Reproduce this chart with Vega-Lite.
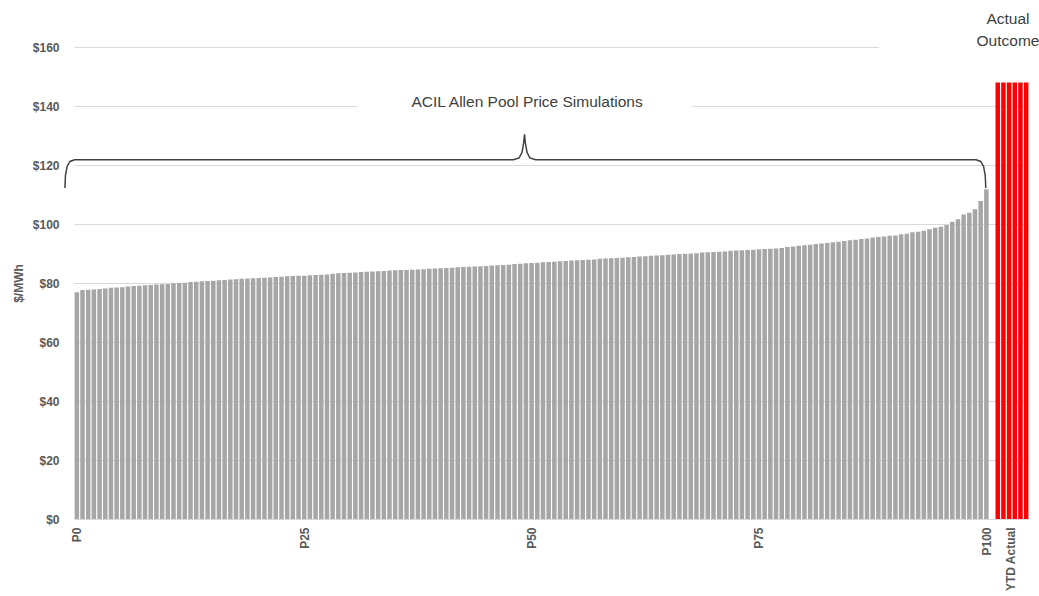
{
  "$schema": "https://vega.github.io/schema/vega-lite/v6.json",
  "width": 955,
  "height": 472,
  "autosize": {"type": "none"},
  "padding": {"left": 74, "top": 47, "right": 10, "bottom": 77},
  "background": "white",
  "config": {
    "view": {"stroke": null},
    "font": "Liberation Sans"
  },
  "datasets": {
    "sims": [
      {"i":0,"price":76.9,"series":"Simulation"},{"i":1,"price":77.6,"series":"Simulation"},{"i":2,"price":77.7,"series":"Simulation"},{"i":3,"price":77.8,"series":"Simulation"},{"i":4,"price":78.0,"series":"Simulation"},{"i":5,"price":78.1,"series":"Simulation"},{"i":6,"price":78.4,"series":"Simulation"},{"i":7,"price":78.5,"series":"Simulation"},{"i":8,"price":78.6,"series":"Simulation"},{"i":9,"price":78.8,"series":"Simulation"},
      {"i":10,"price":79.0,"series":"Simulation"},{"i":11,"price":79.1,"series":"Simulation"},{"i":12,"price":79.2,"series":"Simulation"},{"i":13,"price":79.3,"series":"Simulation"},{"i":14,"price":79.5,"series":"Simulation"},{"i":15,"price":79.6,"series":"Simulation"},{"i":16,"price":79.7,"series":"Simulation"},{"i":17,"price":79.9,"series":"Simulation"},{"i":18,"price":80.0,"series":"Simulation"},{"i":19,"price":80.1,"series":"Simulation"},
      {"i":20,"price":80.3,"series":"Simulation"},{"i":21,"price":80.4,"series":"Simulation"},{"i":22,"price":80.6,"series":"Simulation"},{"i":23,"price":80.7,"series":"Simulation"},{"i":24,"price":80.8,"series":"Simulation"},{"i":25,"price":80.9,"series":"Simulation"},{"i":26,"price":81.0,"series":"Simulation"},{"i":27,"price":81.2,"series":"Simulation"},{"i":28,"price":81.3,"series":"Simulation"},{"i":29,"price":81.4,"series":"Simulation"},
      {"i":30,"price":81.5,"series":"Simulation"},{"i":31,"price":81.6,"series":"Simulation"},{"i":32,"price":81.7,"series":"Simulation"},{"i":33,"price":81.8,"series":"Simulation"},{"i":34,"price":81.9,"series":"Simulation"},{"i":35,"price":82.0,"series":"Simulation"},{"i":36,"price":82.1,"series":"Simulation"},{"i":37,"price":82.3,"series":"Simulation"},{"i":38,"price":82.4,"series":"Simulation"},{"i":39,"price":82.5,"series":"Simulation"},
      {"i":40,"price":82.5,"series":"Simulation"},{"i":41,"price":82.6,"series":"Simulation"},{"i":42,"price":82.7,"series":"Simulation"},{"i":43,"price":82.8,"series":"Simulation"},{"i":44,"price":82.9,"series":"Simulation"},{"i":45,"price":83.1,"series":"Simulation"},{"i":46,"price":83.3,"series":"Simulation"},{"i":47,"price":83.4,"series":"Simulation"},{"i":48,"price":83.5,"series":"Simulation"},{"i":49,"price":83.6,"series":"Simulation"},
      {"i":50,"price":83.7,"series":"Simulation"},{"i":51,"price":83.8,"series":"Simulation"},{"i":52,"price":83.9,"series":"Simulation"},{"i":53,"price":84.0,"series":"Simulation"},{"i":54,"price":84.1,"series":"Simulation"},{"i":55,"price":84.2,"series":"Simulation"},{"i":56,"price":84.3,"series":"Simulation"},{"i":57,"price":84.4,"series":"Simulation"},{"i":58,"price":84.4,"series":"Simulation"},{"i":59,"price":84.5,"series":"Simulation"},
      {"i":60,"price":84.6,"series":"Simulation"},{"i":61,"price":84.7,"series":"Simulation"},{"i":62,"price":84.8,"series":"Simulation"},{"i":63,"price":84.9,"series":"Simulation"},{"i":64,"price":85.0,"series":"Simulation"},{"i":65,"price":85.1,"series":"Simulation"},{"i":66,"price":85.2,"series":"Simulation"},{"i":67,"price":85.3,"series":"Simulation"},{"i":68,"price":85.4,"series":"Simulation"},{"i":69,"price":85.5,"series":"Simulation"},
      {"i":70,"price":85.6,"series":"Simulation"},{"i":71,"price":85.7,"series":"Simulation"},{"i":72,"price":85.8,"series":"Simulation"},{"i":73,"price":85.9,"series":"Simulation"},{"i":74,"price":86.0,"series":"Simulation"},{"i":75,"price":86.1,"series":"Simulation"},{"i":76,"price":86.2,"series":"Simulation"},{"i":77,"price":86.4,"series":"Simulation"},{"i":78,"price":86.5,"series":"Simulation"},{"i":79,"price":86.7,"series":"Simulation"},
      {"i":80,"price":86.8,"series":"Simulation"},{"i":81,"price":86.9,"series":"Simulation"},{"i":82,"price":87.0,"series":"Simulation"},{"i":83,"price":87.1,"series":"Simulation"},{"i":84,"price":87.2,"series":"Simulation"},{"i":85,"price":87.4,"series":"Simulation"},{"i":86,"price":87.5,"series":"Simulation"},{"i":87,"price":87.6,"series":"Simulation"},{"i":88,"price":87.7,"series":"Simulation"},{"i":89,"price":87.8,"series":"Simulation"},
      {"i":90,"price":87.9,"series":"Simulation"},{"i":91,"price":88.0,"series":"Simulation"},{"i":92,"price":88.2,"series":"Simulation"},{"i":93,"price":88.3,"series":"Simulation"},{"i":94,"price":88.4,"series":"Simulation"},{"i":95,"price":88.5,"series":"Simulation"},{"i":96,"price":88.6,"series":"Simulation"},{"i":97,"price":88.7,"series":"Simulation"},{"i":98,"price":88.8,"series":"Simulation"},{"i":99,"price":89.0,"series":"Simulation"},
      {"i":100,"price":89.1,"series":"Simulation"},{"i":101,"price":89.2,"series":"Simulation"},{"i":102,"price":89.3,"series":"Simulation"},{"i":103,"price":89.4,"series":"Simulation"},{"i":104,"price":89.6,"series":"Simulation"},{"i":105,"price":89.7,"series":"Simulation"},{"i":106,"price":89.8,"series":"Simulation"},{"i":107,"price":89.9,"series":"Simulation"},{"i":108,"price":90.0,"series":"Simulation"},{"i":109,"price":90.1,"series":"Simulation"},
      {"i":110,"price":90.3,"series":"Simulation"},{"i":111,"price":90.4,"series":"Simulation"},{"i":112,"price":90.5,"series":"Simulation"},{"i":113,"price":90.6,"series":"Simulation"},{"i":114,"price":90.7,"series":"Simulation"},{"i":115,"price":90.9,"series":"Simulation"},{"i":116,"price":91.0,"series":"Simulation"},{"i":117,"price":91.1,"series":"Simulation"},{"i":118,"price":91.2,"series":"Simulation"},{"i":119,"price":91.3,"series":"Simulation"},
      {"i":120,"price":91.4,"series":"Simulation"},{"i":121,"price":91.5,"series":"Simulation"},{"i":122,"price":91.6,"series":"Simulation"},{"i":123,"price":91.7,"series":"Simulation"},{"i":124,"price":91.9,"series":"Simulation"},{"i":125,"price":92.2,"series":"Simulation"},{"i":126,"price":92.4,"series":"Simulation"},{"i":127,"price":92.6,"series":"Simulation"},{"i":128,"price":92.8,"series":"Simulation"},{"i":129,"price":93.0,"series":"Simulation"},
      {"i":130,"price":93.2,"series":"Simulation"},{"i":131,"price":93.4,"series":"Simulation"},{"i":132,"price":93.6,"series":"Simulation"},{"i":133,"price":93.8,"series":"Simulation"},{"i":134,"price":94.0,"series":"Simulation"},{"i":135,"price":94.2,"series":"Simulation"},{"i":136,"price":94.5,"series":"Simulation"},{"i":137,"price":94.7,"series":"Simulation"},{"i":138,"price":94.9,"series":"Simulation"},{"i":139,"price":95.1,"series":"Simulation"},
      {"i":140,"price":95.4,"series":"Simulation"},{"i":141,"price":95.6,"series":"Simulation"},{"i":142,"price":95.8,"series":"Simulation"},{"i":143,"price":96.0,"series":"Simulation"},{"i":144,"price":96.1,"series":"Simulation"},{"i":145,"price":96.5,"series":"Simulation"},{"i":146,"price":96.7,"series":"Simulation"},{"i":147,"price":97.2,"series":"Simulation"},{"i":148,"price":97.4,"series":"Simulation"},{"i":149,"price":97.7,"series":"Simulation"},
      {"i":150,"price":98.2,"series":"Simulation"},{"i":151,"price":98.7,"series":"Simulation"},{"i":152,"price":99.1,"series":"Simulation"},{"i":153,"price":99.7,"series":"Simulation"},{"i":154,"price":100.8,"series":"Simulation"},{"i":155,"price":101.6,"series":"Simulation"},{"i":156,"price":103.2,"series":"Simulation"},{"i":157,"price":103.8,"series":"Simulation"},{"i":158,"price":105.0,"series":"Simulation"},{"i":159,"price":107.8,"series":"Simulation"},
      {"i":160,"price":111.8,"series":"Simulation"},
      {"i":162,"price":148,"series":"Actual"},{"i":163,"price":148,"series":"Actual"},{"i":164,"price":148,"series":"Actual"},{"i":165,"price":148,"series":"Actual"},{"i":166,"price":148,"series":"Actual"},{"i":167,"price":148,"series":"Actual"}
    ],
    "bracket": [
      {"o":1,"i":-2.1,"v":112.2},{"o":2,"i":-2.0,"v":116.5},{"o":3,"i":-1.7,"v":119.6},{"o":4,"i":-1.2,"v":121.2},{"o":5,"i":-0.4,"v":121.8},
      {"o":6,"i":76.8,"v":121.8},{"o":7,"i":77.8,"v":122.4},{"o":8,"i":78.3,"v":124.2},{"o":9,"i":78.6,"v":127.5},{"o":10,"i":78.75,"v":130.4},
      {"o":11,"i":78.9,"v":127.5},{"o":12,"i":79.2,"v":124.2},{"o":13,"i":79.7,"v":122.4},{"o":14,"i":80.7,"v":121.8},
      {"o":15,"i":158.2,"v":121.8},{"o":16,"i":159.0,"v":121.2},{"o":17,"i":159.5,"v":119.6},{"o":18,"i":159.8,"v":116.5},{"o":19,"i":159.9,"v":112.2}
    ],
    "notes": [
      {"i":79.2,"v":141.5,"text":"ACIL Allen Pool Price Simulations"},
      {"i":163.8,"v":169.5,"text":"Actual"},
      {"i":163.8,"v":162.0,"text":"Outcome"}
    ],
    "masks": [
      {"i":49.3,"i2":108.3,"v":137.5,"v2":146},
      {"i":141.1,"i2":175,"v":155,"v2":175}
    ]
  },
  "layer": [
    {
      "data": {"name": "masks"},
      "mark": {"type": "rect", "fill": "white", "stroke": null},
      "encoding": {
        "x": {"field": "i", "type": "quantitative", "scale": {"domain": [-0.5, 167.5], "nice": false, "zero": false, "padding": 0}},
        "x2": {"field": "i2"},
        "y": {"field": "v", "type": "quantitative", "scale": {"domain": [0, 160], "nice": false, "padding": 0}},
        "y2": {"field": "v2"}
      }
    },
    {
      "data": {"name": "sims"},
      "mark": {"type": "bar", "size": 4.5},
      "encoding": {
        "x": {
          "field": "i", "type": "quantitative",
          "scale": {"domain": [-0.5, 167.5], "nice": false, "zero": false, "padding": 0},
          "axis": {
            "values": [0, 40, 80, 120, 160, 164.3],
            "labelExpr": "datum.value == 0 ? 'P0' : datum.value == 40 ? 'P25' : datum.value == 80 ? 'P50' : datum.value == 120 ? 'P75' : datum.value == 160 ? 'P100' : 'YTD Actual'",
            "labelAngle": 270,
            "labelFont": "Liberation Sans",
            "labelFontWeight": "bold",
            "labelFontSize": 12,
            "labelColor": "#595959",
            "labelPadding": 8,
            "labelOverlap": false,
            "labelFlush": false,
            "ticks": false,
            "domain": false,
            "grid": false,
            "title": null
          }
        },
        "y": {
          "field": "price", "type": "quantitative",
          "scale": {"domain": [0, 160], "nice": false, "padding": 0},
          "axis": {
            "values": [0, 20, 40, 60, 80, 100, 120, 140, 160],
            "labelExpr": "'$' + datum.value",
            "labelFont": "Liberation Sans",
            "labelFontWeight": "bold",
            "labelFontSize": 12,
            "labelColor": "#595959",
            "labelPadding": 15,
            "ticks": false,
            "domain": false,
            "grid": true,
            "gridColor": "#d9d9d9",
            "gridWidth": 1,
            "title": "$/MWh",
            "titleFont": "Liberation Sans",
            "titleFontWeight": "bold",
            "titleFontSize": 12,
            "titleColor": "#595959",
            "titlePadding": 7
          }
        },
        "color": {
          "field": "series", "type": "nominal",
          "scale": {"domain": ["Simulation", "Actual"], "range": ["#a6a6a6", "#ff0000"]},
          "legend": null
        }
      }
    },
    {
      "data": {"name": "bracket"},
      "mark": {"type": "line", "color": "#404040", "strokeWidth": 1.5, "interpolate": "linear"},
      "encoding": {
        "x": {"field": "i", "type": "quantitative"},
        "y": {"field": "v", "type": "quantitative"},
        "order": {"field": "o", "type": "quantitative"}
      }
    },
    {
      "data": {"name": "notes"},
      "mark": {"type": "text", "font": "Liberation Sans", "fontSize": 15.5, "color": "#404040", "align": "center", "baseline": "middle"},
      "encoding": {
        "x": {"field": "i", "type": "quantitative"},
        "y": {"field": "v", "type": "quantitative"},
        "text": {"field": "text", "type": "nominal"}
      }
    }
  ]
}
